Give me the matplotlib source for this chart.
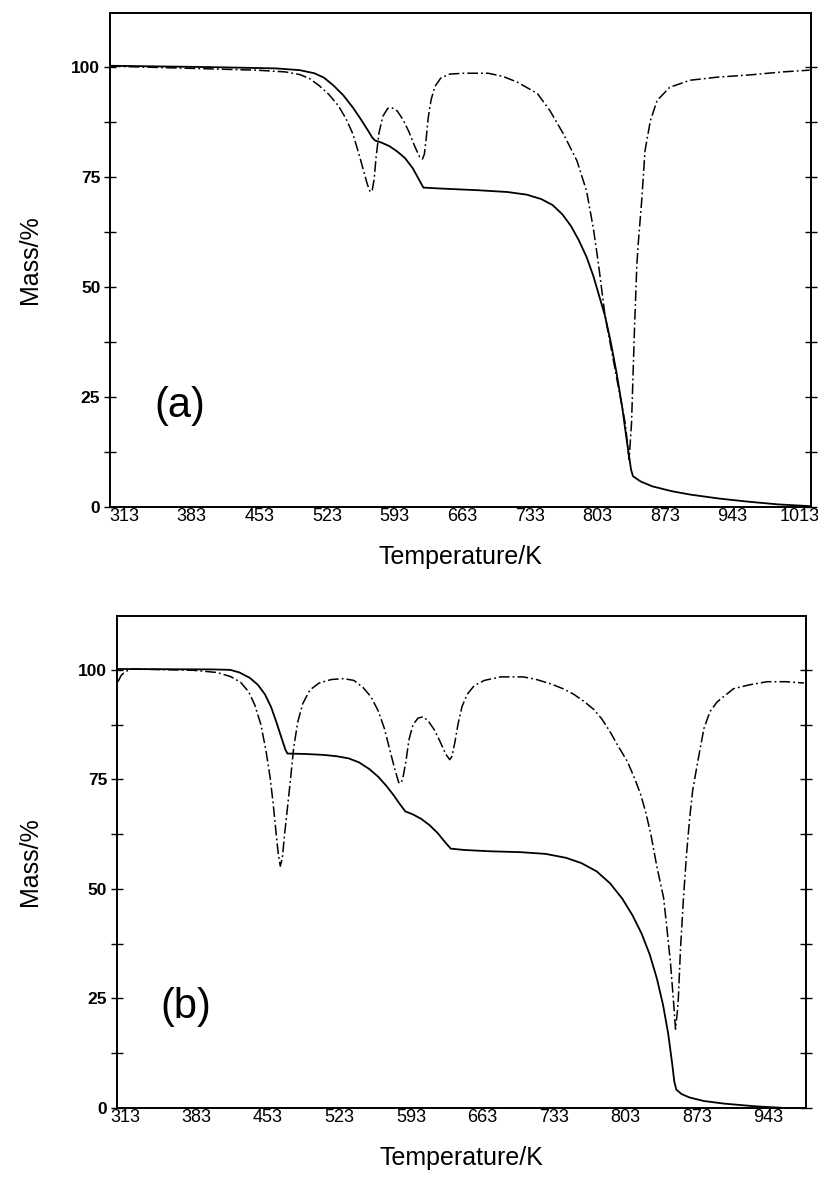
import matplotlib
matplotlib.use("Agg")
import matplotlib.pyplot as plt
import numpy as np

plt.rcParams['font.family'] = ['Liberation Sans', 'DejaVu Sans']

# ---- panel (a): TG (solid) and DTG (dash-dot) ----
tg_a_T = [298.5, 400, 470, 495, 510, 520, 530, 540, 550, 558, 565, 570, 573, 580, 588, 596,
          604, 612, 618, 623, 640, 680, 710, 730, 745, 757, 767, 776, 784, 792, 799, 805,
          811, 817, 823, 829, 833, 836, 838, 840, 848, 860, 880, 900, 930, 960, 990, 1023]
tg_a_m = [100.3, 100.0, 99.7, 99.3, 98.6, 97.6, 95.8, 93.6, 90.8, 88.2, 85.8, 84.0, 83.3,
          82.8, 82.0, 80.8, 79.3, 77.0, 74.6, 72.6, 72.4, 72.0, 71.6, 71.0, 70.0, 68.6, 66.5,
          63.8, 60.6, 56.8, 52.5, 48, 43.5, 37.5, 30.5, 22.5, 16, 11.5, 8.5, 7, 5.8, 4.7, 3.6,
          2.8, 1.9, 1.2, 0.6, 0.2]

dtg_a_T = [298.5, 350, 400, 450, 480, 495, 505, 515, 525, 535, 543, 550, 556, 561, 565, 568,
           570, 572, 574, 577, 581, 586, 590, 596, 602, 608, 614, 619, 622, 624, 626, 628,
           631, 635, 641, 650, 665, 690, 705, 720, 741, 754, 768, 782, 792, 799, 804, 811,
           823.5, 832, 836, 838.5, 841.5, 844, 845.5, 849, 852.5, 858, 865, 878, 899, 927,
           960, 995, 1023]
dtg_a_m = [100.2, 99.9, 99.6, 99.3, 98.9, 98.3, 97.4, 95.8, 93.8, 91.2, 88.2, 84.8, 80.4,
           76.5, 73.3, 71.6, 72.0, 74.5, 79.5, 85.0, 88.8, 90.6, 90.8, 90.0, 88.0, 85.3, 82.0,
           79.6, 79.1, 80.2, 84, 88.5, 92.6, 95.6, 97.5, 98.4, 98.6, 98.6, 97.9, 96.6, 94,
           90.1, 84.8, 78.7, 71.8, 63.3, 55.7, 43.6, 28.9, 19, 10.8, 19, 40, 55, 60, 69.5, 81,
           87.8, 92.4, 95.4, 97, 97.7, 98.2, 98.9, 99.3]

# ---- panel (b) ----
tg_b_T = [306, 400, 416, 425, 435, 443, 450, 456, 461, 466, 470, 472, 490, 507, 520, 532,
          542, 552, 561, 569, 576, 582, 587.5, 595, 603, 611, 619, 626, 632, 645, 670, 700,
          725, 745, 760, 775, 788, 800, 810, 819, 827, 834, 840, 845, 849, 851, 853, 858,
          866, 880, 900, 930, 960, 981]
tg_b_m = [100.2, 100.1, 100.0, 99.4, 98.2, 96.6, 94.4, 91.5, 88.2, 84.6, 81.8, 80.9, 80.8,
          80.6, 80.3, 79.8, 78.9, 77.4, 75.6, 73.5, 71.4, 69.4, 67.7, 67.0, 66.0, 64.6, 62.8,
          60.8, 59.2, 58.9, 58.6, 58.4, 58.0, 57.1, 55.9, 54.0, 51.3, 47.8, 44.0, 39.8, 35.0,
          29.5, 23.5, 17, 10, 6, 4.2, 3.2, 2.4, 1.6, 1.0, 0.4, 0.0, -0.6]

dtg_b_T = [306, 309, 313, 320, 380, 403, 416, 426, 434, 440, 446, 451, 455, 458, 461, 463,
           465, 467, 469, 472, 475, 478, 482, 487, 494, 503, 515, 527, 537, 546, 554, 561,
           567, 572, 577, 581, 583, 585, 588, 591, 595, 600, 605, 610, 616, 622, 627, 631,
           633, 636, 639, 643, 648, 655, 665, 681, 703, 716, 730, 742, 752, 762, 772, 780,
           788, 796, 805, 812, 818, 823, 828, 834, 840.5, 844, 847.3, 850, 852.2, 854, 855,
           857, 860, 863, 866, 869, 874, 880, 886, 893, 909, 925, 942, 960, 978]
dtg_b_m = [97.3, 98.7, 99.6, 100.2, 99.9, 99.4, 98.5, 97.2, 95.0, 92.0, 87.5, 81.5, 75.5,
           69.5, 62.5, 58, 55.2, 57, 62, 68.5, 75, 82, 88, 92.3, 95.4, 97.0, 97.8, 98.0, 97.6,
           96.0, 93.8, 90.6, 86.6, 82.0, 77.5, 74.3, 74.1, 75.2, 79, 84, 87.5, 89.0, 89.3,
           88.3, 86.3, 83.4, 80.8, 79.5, 80.2, 83.4, 87.5, 91.6, 94.4, 96.4, 97.6, 98.4, 98.4,
           97.8, 96.8, 95.7, 94.5, 92.9, 91.0, 88.8, 85.9, 82.6, 79.1, 75.3, 71.6, 67.5, 62.5,
           55, 48, 40.5, 33, 25, 18, 22, 25.2, 36, 48, 58, 66, 72.5, 79.1, 86.6, 90.5, 92.7,
           95.7, 96.6, 97.3, 97.3, 97.0]

ticks_a = [313, 383, 453, 523, 593, 663, 733, 803, 873, 943, 1013]
ticks_b = [313, 383, 453, 523, 593, 663, 733, 803, 873, 943]
mass_ticks = [0, 25, 50, 75, 100]

fig = plt.figure(figsize=(8.18, 11.78), dpi=100)

panels = [
    ([0.1345, 0.5696, 0.857, 0.4194], (298.5, 1024.4), ticks_a, tg_a_T, tg_a_m, dtg_a_T, dtg_a_m, '(a)', 371),
    ([0.143, 0.0594, 0.8423, 0.4177], (305, 980), ticks_b, tg_b_T, tg_b_m, dtg_b_T, dtg_b_m, '(b)', 372),
]

for rect, xlim, xt, tT, tm, dT, dm, tag, tagx in panels:
    ax = fig.add_axes(rect)
    ax.plot(tT, tm, color='black', lw=1.3)
    ax.plot(dT, dm, color='black', lw=1.1, linestyle=(0, (7, 2, 1.2, 2)))
    ax.set_xlim(*xlim)
    ax.set_ylim(0, 112.3)
    ax.set_xticks(xt)
    ax.set_xticklabels([str(v) for v in xt], fontsize=13)
    ax.tick_params(axis='x', length=0, pad=1)
    ax.set_yticks(mass_ticks)
    ax.set_yticklabels([str(v) for v in mass_ticks], fontsize=12.5, fontweight='bold')
    ax.set_yticks(np.arange(12.5, 100, 25), minor=True)
    ax.tick_params(axis='y', which='both', direction='inout', length=8, width=1,
                   right=True, pad=3)
    for s in ax.spines.values():
        s.set_linewidth(1.4)
    ax.set_xlabel('Temperature/K', fontsize=18, labelpad=14)
    ax.text(tagx, 23, tag, fontsize=30, ha='center', va='center')
    fig.text(30 / 818, rect[1] + rect[3] / 2, 'Mass/%', fontsize=18, rotation=90,
             ha='center', va='center')

fig.savefig('out.png', dpi=100)
